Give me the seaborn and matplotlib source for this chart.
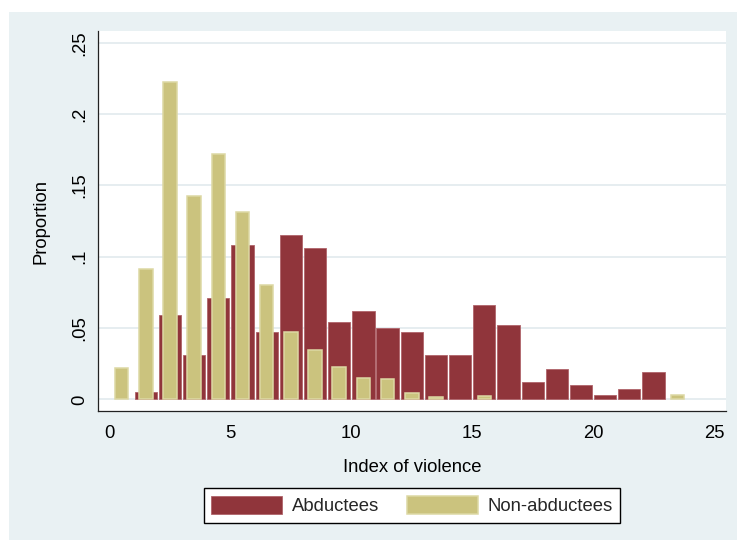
import numpy as np
import pandas as pd
import matplotlib
matplotlib.use("Agg")
import matplotlib.pyplot as plt
from matplotlib.patches import Patch, Rectangle
import seaborn as sns

# Share of respondents in each unit bin of the violence index (bin k covers [k, k+1))
bin_start = list(range(0, 24))
abductees = [0.0, 0.0051, 0.0591, 0.0311, 0.0710, 0.1084, 0.0474, 0.1152,
             0.1059, 0.0544, 0.0621, 0.0499, 0.0475, 0.0310, 0.0310, 0.0665,
             0.0524, 0.0123, 0.0216, 0.0100, 0.0032, 0.0076, 0.0193, 0.0]
non_abductees = [0.0217, 0.0911, 0.2227, 0.1425, 0.1718, 0.1311, 0.0799, 0.0474,
                 0.0343, 0.0229, 0.0149, 0.0142, 0.0043, 0.0015, 0.0, 0.0025,
                 0.0, 0.0, 0.0, 0.0, 0.0, 0.0, 0.0, 0.0030]
group_labels = ["Abductees", "Non-abductees"]
x_ticks = [0, 5, 10, 15, 20, 25]
y_ticks = [0, 0.05, 0.10, 0.15, 0.20, 0.25]
y_tick_labels = ["0", ".05", ".1", ".15", ".2", ".25"]

MAROON = "#90353B"
MAROON_EDGE = "#B0646A"
KHAKI = "#CBC37E"
KHAKI_EDGE = "#DDD8A4"
REGION = "#E9F1F3"
GRID = "#E4ECEF"

sns.set_theme(style="white")
plt.rcParams["font.family"] = ["Liberation Sans", "DejaVu Sans"]
FS = 13.3

df = pd.DataFrame({
    "mid": np.array(bin_start) + 0.5,
    "abductees": abductees,
    "non_abductees": non_abductees,
})

fig = plt.figure(figsize=(7.37, 5.40), dpi=100, facecolor="white")
fig.patches.append(Rectangle((9 / 737, 0), 1 - 9 / 737, (540 - 12) / 540,
                             transform=fig.transFigure, facecolor=REGION,
                             edgecolor="none", zorder=-1))
ax = fig.add_axes([98 / 737, (540 - 411) / 540, 628 / 737, 380 / 540])
ax.set_facecolor("white")

sns.barplot(data=df[df["abductees"] > 0], x="mid", y="abductees",
            native_scale=True, width=0.92, color=MAROON, saturation=1,
            edgecolor=MAROON_EDGE, linewidth=0.6, errorbar=None, ax=ax, zorder=2)
sns.barplot(data=df[df["non_abductees"] > 0], x="mid", y="non_abductees",
            native_scale=True, width=0.56, color=KHAKI, saturation=1,
            edgecolor=KHAKI_EDGE, linewidth=1.1, errorbar=None, ax=ax, zorder=3)

ax.set_xlim(-0.48, 25.5)
ax.set_ylim(-0.0081, 0.2582)
ax.set_xticks(x_ticks)
ax.set_xticklabels([str(t) for t in x_ticks], fontsize=FS)
ax.set_yticks(y_ticks)
ax.set_yticklabels(y_tick_labels, rotation=90, va="center", fontsize=FS)

ax.grid(axis="y", color=GRID, linewidth=1.3, zorder=1)
ax.grid(axis="x", visible=False)
ax.set_axisbelow(True)

for side in ["top", "right"]:
    ax.spines[side].set_visible(False)
for side in ["left", "bottom"]:
    ax.spines[side].set_color("#222222")
    ax.spines[side].set_linewidth(0.9)
ax.tick_params(axis="both", which="major", direction="out", length=6,
               width=0.9, color="#333333", labelcolor="black")
ax.tick_params(axis="x", pad=4)
ax.tick_params(axis="y", pad=1)

ax.set_xlabel("Index of violence", fontsize=FS, labelpad=12, color="black")
ax.set_ylabel("Proportion", fontsize=FS, labelpad=16, color="black")

handles = [Patch(facecolor=MAROON, edgecolor=MAROON_EDGE, linewidth=0.6),
           Patch(facecolor=KHAKI, edgecolor=KHAKI_EDGE, linewidth=1.1)]
leg = fig.legend(handles, group_labels, loc="center",
                 bbox_to_anchor=(412 / 737, (540 - 505.5) / 540), ncol=2,
                 frameon=True, fancybox=False, framealpha=1, fontsize=FS,
                 handlelength=3.84, handleheight=1.14, handletextpad=0.54,
                 columnspacing=1.47, borderpad=0.4)
leg.get_frame().set_edgecolor("black")
leg.get_frame().set_linewidth(1.0)
leg.get_frame().set_facecolor("white")

fig.savefig("out.png", dpi=100, facecolor="white")
